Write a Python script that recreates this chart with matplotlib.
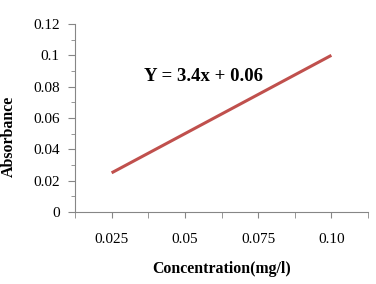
import matplotlib
matplotlib.use("Agg")
import matplotlib.pyplot as plt
import numpy as np

categories = ["0.025", "0.05", "0.075", "0.10"]
absorbance = [0.025, 0.05, 0.075, 0.10]
equation = "Y = 3.4x + 0.06"

plt.rcParams['font.family'] = ['Liberation Serif', 'DejaVu Serif']

fig = plt.figure(figsize=(3.76, 2.84), dpi=100)
ax = fig.add_axes([75/376, 1-212/284, (368-75)/376, (212-24)/284])

xpos = np.arange(len(categories)) + 0.5
ax.plot(xpos, absorbance, color="#C0504D", lw=2.2, solid_capstyle="butt")

ax.set_xlim(0, len(categories))
ax.set_ylim(0, 0.12)
ax.set_yticks(np.arange(0, 0.1201, 0.02))
ax.set_yticklabels(["0", "0.02", "0.04", "0.06", "0.08", "0.1", "0.12"])
ax.set_yticks(np.arange(0.01, 0.12, 0.02), minor=True)
ax.set_xticks(xpos)
ax.set_xticklabels(categories)
ax.set_xticks(np.arange(0, len(categories) + 0.01, 1.0), minor=True)

for s in ["top", "right"]:
    ax.spines[s].set_visible(False)
for s in ["left", "bottom"]:
    ax.spines[s].set_color("#868686")
    ax.spines[s].set_linewidth(0.8)

ax.tick_params(axis="y", which="major", direction="out", length=5, color="#868686", labelsize=11, pad=6)
ax.tick_params(axis="y", which="minor", direction="out", length=3, color="#868686")
ax.tick_params(axis="x", which="both", direction="out", length=4, color="#868686")
ax.tick_params(axis="x", which="major", labelsize=11, pad=11)

ax.set_ylabel("Absorbance", fontsize=11.4, fontweight="bold")
ax.yaxis.set_label_coords(-0.20, 0.40)
ax.set_xlabel("Concentration(mg/l)", fontsize=11.4, fontweight="bold", labelpad=11)

ax.text(0.44, 0.72, equation, transform=ax.transAxes, ha="center", va="center",
        fontsize=13.5, fontweight="bold")

fig.savefig("out.png", dpi=100)
